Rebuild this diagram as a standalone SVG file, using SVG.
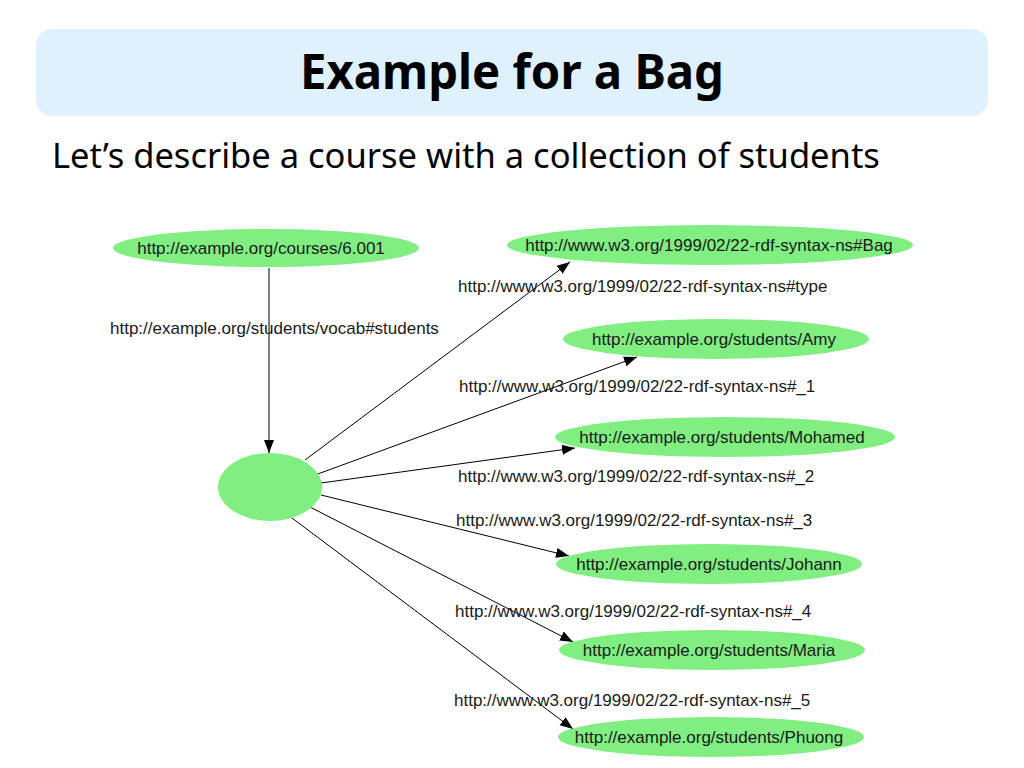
<svg xmlns="http://www.w3.org/2000/svg" width="1024" height="768" viewBox="0 0 1024 768">
<style>
.node{fill:#80EE80;stroke:none}
.nl{font-family:"Liberation Sans",Arial,sans-serif;font-size:17px;fill:#1a1a1a;text-anchor:middle}
.el{font-family:"Liberation Sans",Arial,sans-serif;font-size:17px;fill:#1a1a1a}
.edge{stroke:#000;stroke-width:1;fill:none;marker-end:url(#arr)}
</style>
<defs>
<marker id="arr" markerUnits="userSpaceOnUse" markerWidth="14" markerHeight="12" refX="13" refY="5" orient="auto" viewBox="0 0 14 10">
<path d="M0,0 L13,5 L0,10 z" fill="#000"/>
</marker>
</defs>
<rect width="1024" height="768" fill="#fff"/>
<g id="header">
<rect x="36" y="29" width="952" height="87" rx="16" fill="#DFF1FC"/>
<text x="512" y="89" text-anchor="middle" font-family="'Noto Sans','Open Sans',sans-serif" font-weight="bold" font-size="48" textLength="424" lengthAdjust="spacingAndGlyphs" fill="#000">Example for a Bag</text>
<text x="52" y="168" font-family="'Noto Sans','Open Sans',sans-serif" font-size="34.5" fill="#000">Let’s describe a course with a collection of students</text>
</g>
<g id="connectors">
<line class="edge" x1="269" y1="268" x2="269" y2="453"/>
<line class="edge" x1="305" y1="460" x2="570" y2="262"/>
<line class="edge" x1="315" y1="475" x2="637" y2="357"/>
<line class="edge" x1="321" y1="483" x2="575" y2="448"/>
<line class="edge" x1="321" y1="495" x2="569" y2="556"/>
<line class="edge" x1="310" y1="507" x2="573" y2="642"/>
<line class="edge" x1="292" y1="518" x2="573" y2="729"/>
<text class="el" x="110" y="334">http://example.org/students/vocab#students</text>
<text class="el" x="458" y="292">http://www.w3.org/1999/02/22-rdf-syntax-ns#type</text>
<text class="el" x="459" y="392">http://www.w3.org/1999/02/22-rdf-syntax-ns#_1</text>
<text class="el" x="458" y="482">http://www.w3.org/1999/02/22-rdf-syntax-ns#_2</text>
<text class="el" x="456" y="526">http://www.w3.org/1999/02/22-rdf-syntax-ns#_3</text>
<text class="el" x="455" y="617">http://www.w3.org/1999/02/22-rdf-syntax-ns#_4</text>
<text class="el" x="454" y="706">http://www.w3.org/1999/02/22-rdf-syntax-ns#_5</text>
</g>
<g id="course">
<ellipse class="node" cx="266" cy="248" rx="153" ry="19"/>
<text class="nl" x="261" y="254">http://example.org/courses/6.001</text>
</g>
<g id="bag">
<ellipse class="node" cx="710" cy="245" rx="203" ry="20"/>
<text class="nl" x="709" y="251">http://www.w3.org/1999/02/22-rdf-syntax-ns#Bag</text>
</g>
<g id="amy">
<ellipse class="node" cx="716" cy="339" rx="153" ry="20"/>
<text class="nl" x="714" y="345">http://example.org/students/Amy</text>
</g>
<g id="mohamed">
<ellipse class="node" cx="725" cy="437" rx="170" ry="20"/>
<text class="nl" x="722" y="443">http://example.org/students/Mohamed</text>
</g>
<g id="johann">
<ellipse class="node" cx="709" cy="564" rx="153" ry="20"/>
<text class="nl" x="709" y="570">http://example.org/students/Johann</text>
</g>
<g id="maria">
<ellipse class="node" cx="712" cy="650" rx="153" ry="20"/>
<text class="nl" x="709" y="656">http://example.org/students/Maria</text>
</g>
<g id="phuong">
<ellipse class="node" cx="711" cy="737" rx="153" ry="20"/>
<text class="nl" x="709" y="743">http://example.org/students/Phuong</text>
</g>
<g id="bagnode">
<ellipse class="node" cx="270" cy="487" rx="52" ry="34"/>
</g>
</svg>
